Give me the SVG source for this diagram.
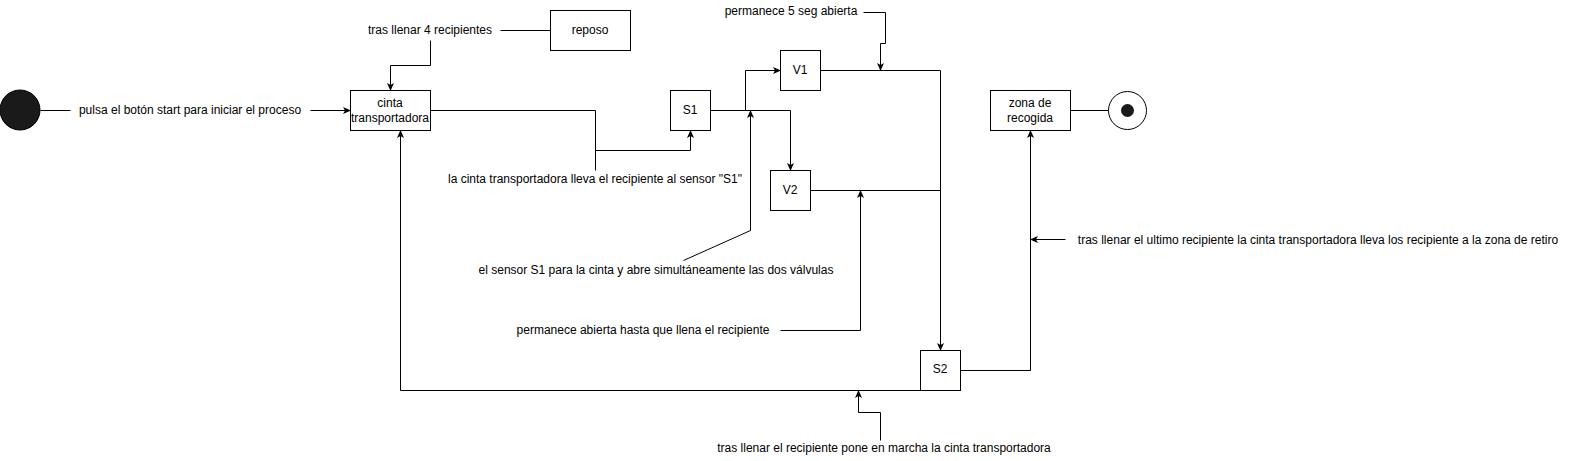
<svg xmlns="http://www.w3.org/2000/svg" width="1571" height="461" viewBox="0 0 1571 461">
<style>
.box{fill:#fff;stroke:#000;stroke-width:1}
.t{font-family:"Liberation Sans",Arial,sans-serif;font-size:12px;fill:#000;text-anchor:middle;dominant-baseline:central}
.e{fill:none;stroke:#000;stroke-width:1}
.a{marker-end:url(#arr)}
</style>
<defs>
<marker id="arr" markerUnits="userSpaceOnUse" markerWidth="8" markerHeight="8" viewBox="0 0 8 8" refX="7.5" refY="4" orient="auto">
<path d="M0,0.5 L8,4 L0,7.5 L2,4 Z" fill="#000"/>
</marker>
</defs>
<rect width="1571" height="461" fill="#fff"/>
<g id="connectors" transform="translate(0.5,0.5)">
<path class="e" d="M40,110 H70"/>
<path class="e a" d="M310,110 H350"/>
<path class="e" d="M500,30 H550"/>
<path class="e a" d="M430,40 V65 H390 V90"/>
<path class="e" d="M430,110 H595 V170"/>
<path class="e a" d="M595,150 H690 V130"/>
<path class="e a" d="M710,110 H745 V70 H780"/>
<path class="e a" d="M745,110 H790 V170"/>
<path class="e a" d="M683,260 L750,230 V110"/>
<path class="e a" d="M863,12 H885 V43 H880 V70"/>
<path class="e a" d="M820,70 H940 V350"/>
<path class="e" d="M810,190 H940"/>
<path class="e a" d="M780,330 H860 V190"/>
<path class="e a" d="M920,390 H400 V130"/>
<path class="e a" d="M880,440 V412 H858 V390"/>
<path class="e a" d="M960,370 H1030 V130"/>
<path class="e a" d="M1065,239 H1030"/>
<path class="e" d="M1070,110 H1108"/>
</g>
<g id="start"><circle cx="20" cy="110" r="20" fill="#1a1a1a" stroke="#000"/></g>
<g id="end"><circle cx="1127.5" cy="110.5" r="19" fill="#fff" stroke="#000"/><circle cx="1127.5" cy="110.5" r="6.5" fill="#1a1a1a"/></g>
<g id="cinta"><rect class="box" x="350.5" y="90.5" width="80" height="40"/><text class="t" x="390" y="103">cinta</text><text class="t" x="390" y="118">transportadora</text></g>
<g id="reposo"><rect class="box" x="550.5" y="10.5" width="80" height="40"/><text class="t" x="590" y="30">reposo</text></g>
<g id="S1"><rect class="box" x="670.5" y="90.5" width="40" height="40"/><text class="t" x="690" y="110">S1</text></g>
<g id="V1"><rect class="box" x="780.5" y="50.5" width="40" height="40"/><text class="t" x="800" y="70">V1</text></g>
<g id="V2"><rect class="box" x="770.5" y="170.5" width="40" height="40"/><text class="t" x="790" y="190">V2</text></g>
<g id="S2"><rect class="box" x="920.5" y="350.5" width="40" height="40"/><text class="t" x="940" y="369">S2</text></g>
<g id="zona"><rect class="box" x="990.5" y="90.5" width="80" height="40"/><text class="t" x="1030" y="103">zona de</text><text class="t" x="1030" y="118">recogida</text></g>
<g id="lbl-pulsa"><text class="t" x="190" y="110">pulsa el botón start para iniciar el proceso</text></g>
<g id="lbl-tras4"><text class="t" x="430" y="30">tras llenar 4 recipientes</text></g>
<g id="lbl-5seg"><text class="t" x="791" y="11">permanece 5 seg abierta</text></g>
<g id="lbl-lleva"><text class="t" x="595" y="179">la cinta transportadora lleva el recipiente al sensor "S1"</text></g>
<g id="lbl-sensor"><text class="t" x="656" y="270">el sensor S1 para la cinta y abre simultáneamente las dos válvulas</text></g>
<g id="lbl-permanece"><text class="t" x="643" y="330">permanece abierta hasta que llena el recipiente</text></g>
<g id="lbl-pone"><text class="t" x="884" y="448">tras llenar el recipiente pone en marcha la cinta transportadora</text></g>
<g id="lbl-ultimo"><text class="t" x="1318" y="240">tras llenar el ultimo recipiente la cinta transportadora lleva los recipiente a la zona de retiro</text></g>
</svg>
